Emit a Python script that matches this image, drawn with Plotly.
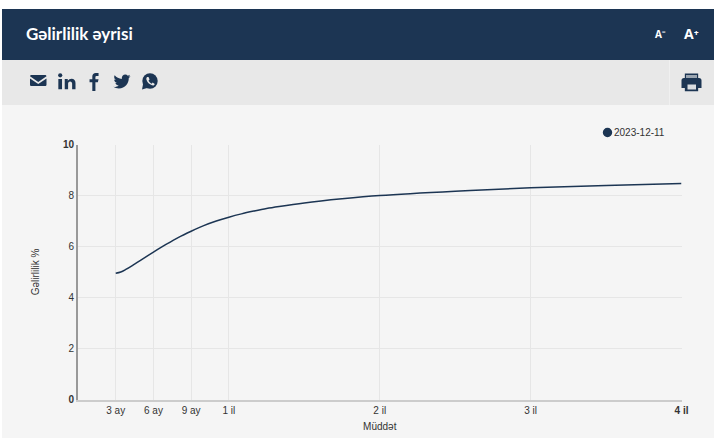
import re
import plotly.graph_objects as go

months = [3, 3.4, 3.8, 4.4, 5, 6, 7, 8, 9, 10, 11, 12, 13, 14, 15, 16, 18, 21, 24, 30, 36, 42, 48]
yields = [4.95, 5.0, 5.1, 5.28, 5.47, 5.78, 6.08, 6.36, 6.6, 6.82, 7.0, 7.15, 7.28, 7.39, 7.49, 7.57, 7.71, 7.87, 8.0, 8.17, 8.3, 8.39, 8.47]
tick_months = [3, 6, 9, 12, 24, 36, 48]
tick_labels = ["3 ay", "6 ay", "9 ay", "1 il", "2 il", "3 il", "<b>4 il</b>"]
y_ticks = [0, 2, 4, 6, 8, 10]
y_labels = ["<b>0</b>", "2", "4", "6", "8", "<b>10</b>"]
series_name = "2023-12-11"

W, H = 720, 438
NAVY = "#1c3553"


def px(v):
    return v / W


def py(v):
    return 1 - v / H


def icon(d, x0, y0, size, vb=512, color=NAVY):
    """Turn an SVG path (relative commands allowed) into absolute paper coordinates."""
    out, cx, cy, sx, sy = [], 0.0, 0.0, 0.0, 0.0
    counts = dict(M=2, L=2, H=1, V=1, C=6, S=4, Q=4, Z=0)
    for cmd, args in re.findall(r"([MmLlHhVvCcSsQqZz])([^MmLlHhVvCcSsQqZz]*)", d):
        nums = [float(n) for n in re.findall(r"-?\d*\.?\d+", args)]
        up = cmd.upper()
        rel = cmd.islower()
        n = counts[up]
        if up == "Z":
            out.append("Z")
            cx, cy = sx, sy
            continue
        first = True
        for i in range(0, len(nums), n):
            g = nums[i:i + n]
            if up == "H":
                cx = g[0] + (cx if rel else 0)
                pts = [(cx, cy)]
            elif up == "V":
                cy = g[0] + (cy if rel else 0)
                pts = [(cx, cy)]
            else:
                pts = [(g[j] + (cx if rel else 0), g[j + 1] + (cy if rel else 0)) for j in range(0, n, 2)]
                cx, cy = pts[-1]
            if up == "M" and first:
                sx, sy = cx, cy
            letter = "L" if up in "HV" or (up == "M" and not first) else up
            out.append(letter + " ".join(
                f"{px(x0 + p[0] / vb * size):.5f},{py(y0 + p[1] / vb * size):.5f}" for p in pts))
            first = False
    return dict(type="path", xref="paper", yref="paper", path=" ".join(out),
                fillcolor=color, line=dict(width=0), layer="above")


def rect(x0, y0, x1, y1, color, layer="below"):
    return dict(type="rect", xref="paper", yref="paper", x0=px(x0), x1=px(x1), y0=py(y0), y1=py(y1),
                fillcolor=color, line=dict(width=0), layer=layer)


def circle(cx, cy, r, color):
    return dict(type="circle", xref="paper", yref="paper", x0=px(cx - r), x1=px(cx + r),
                y0=py(cy - r), y1=py(cy + r), fillcolor=color, line=dict(width=0), layer="above")


TWITTER = ("M459.37 151.716c.325 4.548.325 9.097.325 13.645 0 138.72-105.583 298.558-298.558 298.558"
           "-59.452 0-114.68-17.219-161.137-47.106 8.447.974 16.568 1.299 25.34 1.299 49.055 0 94.213-16.568 "
           "130.274-44.832-46.132-.975-84.792-31.188-98.112-72.772 6.498.974 12.995 1.624 19.818 1.624 "
           "9.421 0 18.843-1.3 27.614-3.573-48.081-9.747-84.143-51.98-84.143-102.985v-1.299c13.969 7.797 "
           "30.214 12.67 47.431 13.319-28.264-18.843-46.781-51.005-46.781-87.391 0-19.492 5.197-37.36 "
           "14.294-52.954 51.655 63.675 129.3 105.258 216.365 109.807-1.624-7.797-2.599-15.918-2.599-24.04 "
           "0-57.828 46.782-104.934 104.934-104.934 30.213 0 57.502 12.67 76.67 33.137 23.715-4.548 "
           "46.456-13.32 66.599-25.34-7.798 24.366-24.366 44.833-46.132 57.827 21.117-2.273 41.584-8.122 "
           "60.426-16.243-14.292 20.791-32.161 39.308-52.628 54.253z")
FACEBOOK = ("M 21 0 H 17 C 14 0 12 2 12 5 V 9 H 8 V 13.5 H 12 V 26 H 16.5 V 13.5 H 20 L 21 9 H 16.5 V 6 "
            "C 16.5 5 17.5 4.5 18.5 4.5 H 21 Z")
LINKEDIN = ("M 0.5 9 H 6 V 24 H 0.5 Z M 10 9 H 14.5 V 11.5 C 16 9.5 18 8.5 20 8.5 C 24 8.5 26 11 26 15 "
            "V 24 H 21 V 16 C 21 14 20 12.5 18 12.5 C 16 12.5 15 14 15 16 V 24 H 10 Z")
ENVELOPE = ("M 2 0 H 22 C 23 0 24 1 24 2 L 12 10 L 0 2 C 0 1 1 0 2 0 Z "
            "M 0 5 L 12 13 L 24 5 V 14 C 24 15 23 16 22 16 H 2 C 1 16 0 15 0 14 Z")
WA_TAIL = "M 2 14 L 0 24 L 10 21 Z"
WA_PHONE = ("M 7.5 6 C 6.5 7 6 8.5 6.5 10 C 8 14 10.5 16.5 14.5 18 C 16 18.5 18 18 18.5 16 "
            "L 15.5 14 L 14 15.5 C 12 14.5 10 12.5 9.5 11 L 11 9.5 L 9.5 6 Z")
PRINTER = ("M 4 0.5 H 20 V 6 H 21 C 23 6 24 7.5 24 9 V 18 H 20 V 22 H 4 V 18 H 0 V 9 "
           "C 0 7.5 1 6 3 6 H 4 Z")

fig = go.Figure(go.Scatter(
    x=months, y=yields, mode="lines", name=series_name,
    line=dict(color=NAVY, width=1.5, shape="spline", smoothing=1),
    hoverinfo="x+y", showlegend=False,
))

shapes = [
    rect(2, 9, 714, 60, NAVY),
    rect(2, 60, 714, 105, "#e8e8e8"),
    rect(669, 60, 670, 105, "#f0f0f0"),
    rect(2, 105, 714, 438, "#f5f5f5"),
    icon(ENVELOPE, 30, 75, 16.5, vb=24),
    icon(LINKEDIN, 58, 73, 17.5, vb=26),
    circle(60.2, 75.3, 2.1, NAVY),
    icon(FACEBOOK, 84, 73, 18, vb=26),
    icon(TWITTER, 113.5, 73, 17),
    circle(150, 81, 7.7, NAVY),
    icon(WA_TAIL, 142, 73, 16.5, vb=24),
    icon(WA_PHONE, 142, 73, 16.5, vb=24, color="#e8e8e8"),
    icon(PRINTER, 681.5, 73, 20, vb=24),
    rect(686, 75, 697, 78, "#9aa5b1", layer="above"),
    rect(687.5, 84.5, 696, 89.5, "#d8dce0", layer="above"),
    circle(607.5, 132.5, 4.7, NAVY),
]

annotations = [
    dict(text="<b>Gəlirlilik əyrisi</b>", x=px(24), y=py(34), xref="paper", yref="paper",
         xanchor="left", yanchor="middle", showarrow=False,
         font=dict(family="Lato", size=17, color="#ffffff")),
    dict(text="<b>A⁻</b>", x=px(660), y=py(34), xref="paper", yref="paper",
         xanchor="center", yanchor="middle", showarrow=False,
         font=dict(family="Open Sans", size=10, color="#ffffff")),
    dict(text="<b>A⁺</b>", x=px(691), y=py(34), xref="paper", yref="paper",
         xanchor="center", yanchor="middle", showarrow=False,
         font=dict(family="Open Sans", size=14, color="#ffffff")),
    dict(text=series_name, x=px(611.5), y=py(132.5), xref="paper", yref="paper",
         xanchor="left", yanchor="middle", showarrow=False,
         font=dict(family="Liberation Sans", size=10, color="#333333")),
]

fig.update_layout(
    width=W, height=H, margin=dict(l=0, r=0, t=0, b=0, pad=0), autosize=False,
    paper_bgcolor="#ffffff", plot_bgcolor="rgba(0,0,0,0)",
    font=dict(family="Liberation Sans", size=10, color="#333333"),
    shapes=shapes, annotations=annotations,
    xaxis=dict(
        domain=[px(78), px(681.5)], range=[0, 48], tickmode="array",
        tickvals=tick_months, ticktext=tick_labels, showgrid=True, gridcolor="#e6e6e6", gridwidth=1,
        showline=True, linecolor="#cccccc", linewidth=2, zeroline=False, ticks="", ticklen=0,
        title=dict(text="Müddət", standoff=8, font=dict(size=10, color="#333333")),
        tickfont=dict(size=10, color="#333333"), automargin=False,
    ),
    yaxis=dict(
        domain=[py(399.5), py(144.5)], range=[0, 10], tickmode="array",
        tickvals=y_ticks, ticktext=y_labels, showgrid=True, gridcolor="#e6e6e6", gridwidth=1,
        showline=True, linecolor="#999999", linewidth=2, zeroline=False, ticks="",
        title=dict(text="Gəlirlilik %", standoff=21, font=dict(size=10, color="#333333")),
        tickfont=dict(size=10, color="#333333"), automargin=False,
    ),
)

fig.write_html("out.html", post_script="document.body.style.margin='0';",
               config=dict(displayModeBar=False))
